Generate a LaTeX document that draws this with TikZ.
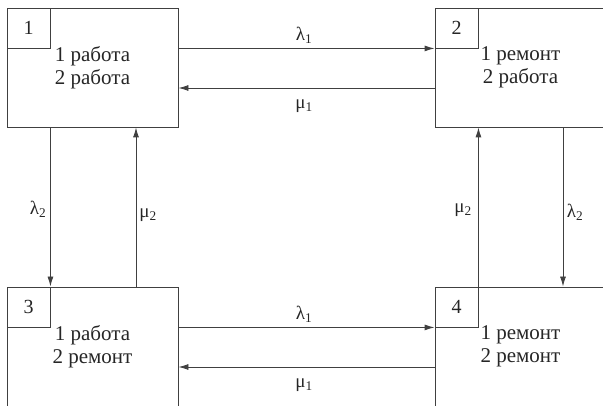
\documentclass[tikz,border=0pt]{standalone}
\usepackage{fontspec}
\setmainfont{Liberation Serif}
\usetikzlibrary{arrows.meta}
\begin{document}
\begin{tikzpicture}[x=1pt,y=-1pt,
  lc/.style={draw=black!75, line width=0.9pt},
  state/.style={lc, fill=white, minimum width=171pt, minimum height=119pt, inner sep=0pt,
     font=\fontsize{21}{22.5}\selectfont, align=center, text=black!85},
  numbox/.style={lc, minimum width=43pt, minimum height=40pt, inner sep=0pt, anchor=north west,
     font=\fontsize{20}{22}\selectfont, text=black!85},
  arr/.style={lc, -{Latex[length=10pt,width=6pt]}},
  lab/.style={font=\fontsize{19}{20}\selectfont, text=black!85, inner sep=0pt}]
\useasboundingbox (0,0) rectangle (603,406);
\clip (0,0) rectangle (603,406);
\node[state] (b1) at (92.5,67.5) {1 работа\\2 работа};
\node[state] (b2) at (520.5,67.5) {1 ремонт\\2 работа};
\node[state] (b3) at (92.5,346.5) {1 работа\\2 ремонт};
\node[state] (b4) at (520.5,346.5) {1 ремонт\\2 ремонт};
\node[numbox] (n1) at (b1.north west) {1};
\node[numbox] (n2) at (b2.north west) {2};
\node[numbox] (n3) at (b3.north west) {3};
\node[numbox] (n4) at (b4.north west) {4};
% horizontal top
\draw[arr] (b1.east |- n2.south) -- (n2.south west);
\draw[arr] ([yshift=-20.5pt]b2.west) -- ([yshift=-20.5pt]b1.east);
% horizontal bottom
\draw[arr] (b3.east |- n4.south) -- (n4.south west);
\draw[arr] ([yshift=-20.5pt]b4.west) -- ([yshift=-20.5pt]b3.east);
% left verticals
\draw[arr] (n1.east |- b1.south) -- (n3.north east);
\draw[arr] ([xshift=43.5pt]b3.north) -- ([xshift=43.5pt]b1.south);
% right verticals
\draw[arr] (n4.north east) -- (n2.east |- b2.south);
\draw[arr] ([xshift=42.5pt]b2.south) -- ([xshift=42.5pt]b4.north);
% labels
\node[lab] (l1) at (304,35) {λ\textsubscript{1}};
\node[lab] (m1) at (304,106) {μ\textsubscript{1}};
\node[lab] (l1b) at (304,314) {λ\textsubscript{1}};
\node[lab] (m1b) at (304,385) {μ\textsubscript{1}};
\node[lab] (l2a) at (38,209) {λ\textsubscript{2}};
\node[lab] (m2a) at (148,215) {μ\textsubscript{2}};
\node[lab] (m2b) at (463,210) {μ\textsubscript{2}};
\node[lab] (l2b) at (575,212) {λ\textsubscript{2}};
\end{tikzpicture}
\end{document}
